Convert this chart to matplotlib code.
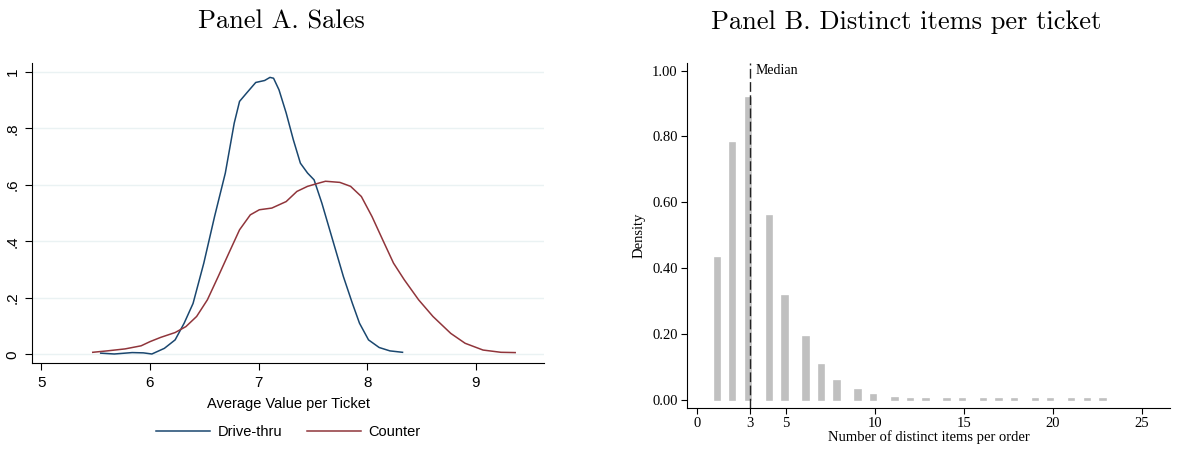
import matplotlib
matplotlib.use("Agg")
from matplotlib import pyplot as plt

# Panel A: kernel densities of average value per ticket
drive_x = [5.547, 5.672, 5.837, 5.94, 6.018, 6.133, 6.232, 6.315, 6.397, 6.496,
           6.595, 6.694, 6.776, 6.825, 6.891, 6.974, 7.056, 7.105, 7.138, 7.188,
           7.254, 7.32, 7.385, 7.451, 7.511, 7.583, 7.682, 7.781, 7.863, 7.929,
           8.012, 8.11, 8.209, 8.325]
drive_y = [0.004, 0.001, 0.006, 0.005, 0.001, 0.021, 0.051, 0.11, 0.18, 0.323,
           0.488, 0.642, 0.819, 0.896, 0.926, 0.963, 0.970, 0.981, 0.978, 0.937,
           0.855, 0.76, 0.677, 0.642, 0.618, 0.535, 0.405, 0.275, 0.181, 0.11,
           0.051, 0.024, 0.012, 0.007]
counter_x = [5.474, 5.606, 5.771, 5.919, 6.002, 6.1, 6.232, 6.331, 6.43, 6.529,
             6.628, 6.726, 6.825, 6.924, 7.007, 7.122, 7.254, 7.353, 7.451, 7.55,
             7.616, 7.748, 7.847, 7.946, 8.044, 8.143, 8.242, 8.341, 8.473, 8.605,
             8.769, 8.901, 9.066, 9.231, 9.362]
counter_y = [0.007, 0.012, 0.019, 0.030, 0.045, 0.060, 0.077, 0.098, 0.134, 0.193,
             0.275, 0.358, 0.441, 0.494, 0.512, 0.518, 0.541, 0.577, 0.595, 0.606,
             0.613, 0.609, 0.595, 0.559, 0.488, 0.405, 0.323, 0.264, 0.193, 0.134,
             0.074, 0.039, 0.015, 0.007, 0.006]

# Panel B: histogram of distinct items per ticket
bin_x = [1.16, 2.0, 2.89, 4.09, 4.95, 6.13, 7.0, 7.88, 9.06, 9.92, 11.13, 12.0,
         12.89, 14.07, 14.92, 16.1, 16.98, 17.86, 19.04, 19.89, 21.07, 21.95, 22.83]
density = [0.431, 0.781, 0.917, 0.558, 0.315, 0.191, 0.107, 0.058, 0.031, 0.015,
           0.007, 0.003, 0.003, 0.002, 0.002, 0.002, 0.001, 0.001, 0.001, 0.001,
           0.001, 0.001, 0.001]
median = 3

fig = plt.figure(figsize=(11.9, 4.68), dpi=100)

# ---- Panel A
sans = "Liberation Sans"
axA = fig.add_axes([0.0271, 0.2237, 0.4303, 0.6417])
axA.plot(drive_x, drive_y, color="#1a476f", lw=1.1, label="Drive-thru")
axA.plot(counter_x, counter_y, color="#90353b", lw=1.1, label="Counter")
axA.set_xlim(4.917, 9.63)
axA.set_ylim(-0.032, 1.032)
axA.set_yticks([0, 0.2, 0.4, 0.6, 0.8, 1.0])
axA.set_yticklabels(["0", ".2", ".4", ".6", ".8", "1"], rotation=90, va="center",
                    family=sans, fontsize=11)
axA.set_xticks([5, 6, 7, 8, 9])
axA.set_xticklabels(["5", "6", "7", "8", "9"], family=sans, fontsize=11)
axA.grid(axis="y", color="#eaf2f3", lw=1)
axA.set_axisbelow(True)
for s in ["top", "right"]:
    axA.spines[s].set_visible(False)
axA.tick_params(length=5, width=0.8, pad=4)
axA.set_xlabel("Average Value per Ticket", family=sans, fontsize=10.5, labelpad=5)
axA.legend(loc="center", bbox_to_anchor=(0.5, -0.23), ncol=2, frameon=False,
           handlelength=3.7, handletextpad=0.5, columnspacing=1.7,
           prop={"family": sans, "size": 10.5})

# ---- Panel B
serif = "Liberation Serif"
axB = fig.add_axes([0.5777, 0.1288, 0.4055, 0.7366])
axB.bar(bin_x, density, width=0.3, color="#c0c0c0", edgecolor="#c0c0c0", lw=1.2)
axB.axvline(median, ymin=0, ymax=1, color="#222222", lw=1, ls=(0, (7, 2.5)))
axB.text(median + 0.28, 1.0, "Median", family=serif, fontsize=10, va="center")
axB.set_xlim(-0.53, 26.6)
axB.set_ylim(-0.024, 1.023)
axB.set_yticks([0, 0.2, 0.4, 0.6, 0.8, 1.0])
axB.set_yticklabels(["0.00", "0.20", "0.40", "0.60", "0.80", "1.00"],
                    family=serif, fontsize=10.5)
axB.set_xticks([0, 3, 5, 10, 15, 20, 25])
axB.set_xticklabels(["0", "3", "5", "10", "15", "20", "25"], family=serif,
                    fontsize=10.5)
for s in ["top", "right"]:
    axB.spines[s].set_visible(False)
axB.tick_params(length=4, width=0.8, pad=3)
axB.set_xlabel("Number of distinct items per order", family=serif, fontsize=10.5,
               labelpad=0)
axB.set_ylabel("Density", family=serif, fontsize=10.5, labelpad=5)

# titles
fig.text(281 / 1190, 1 - 22 / 468, "Panel A. Sales", family="cmr10", fontsize=19,
         ha="center", va="center")
fig.text(906 / 1190, 1 - 22 / 468, "Panel B. Distinct items per ticket",
         family="cmr10", fontsize=19, ha="center", va="center")

fig.savefig("out.png", dpi=100)
